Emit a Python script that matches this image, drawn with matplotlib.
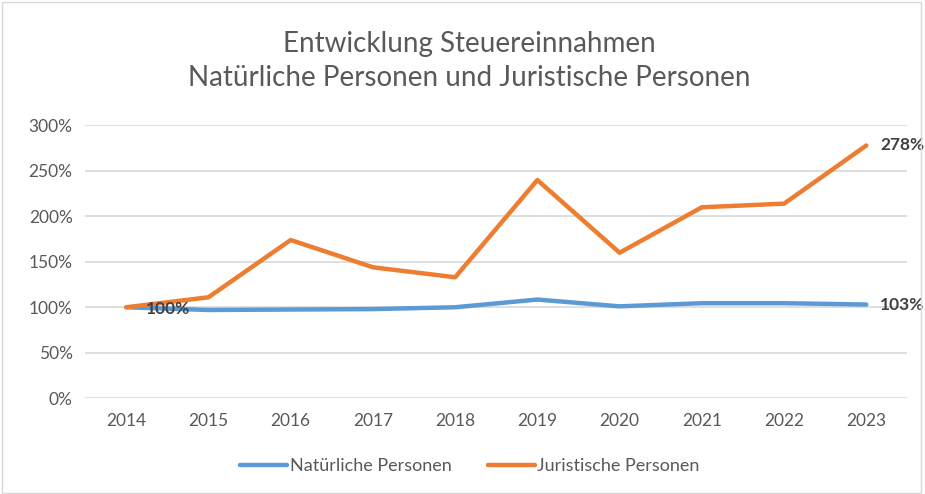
import matplotlib.pyplot as plt
from matplotlib.patches import Rectangle

years = ['2014', '2015', '2016', '2017', '2018', '2019', '2020', '2021', '2022', '2023']
natuerliche = [100, 97, 97.5, 98, 100, 108.5, 101, 104.5, 104.5, 103]
juristische = [100, 111, 174, 144, 133, 240, 160, 210, 214, 278]
yticks = [0, 50, 100, 150, 200, 250, 300]

blue = '#5B9BD5'
orange = '#ED7D31'
grey_txt = '#595959'

plt.rcParams['font.family'] = ['Lato', 'DejaVu Sans']

fig = plt.figure(figsize=(9.25, 4.94), dpi=100, facecolor='white')
ax = fig.add_axes([0.092, 0.194, 0.889, 0.552])

x = list(range(len(years)))
ax.plot(x, natuerliche, color=blue, lw=3.2, solid_capstyle='round',
        solid_joinstyle='round', label='Natürliche Personen', zorder=3)
ax.plot(x, juristische, color=orange, lw=3.2, solid_capstyle='round',
        solid_joinstyle='round', label='Juristische Personen', zorder=3)

ax.set_xlim(-0.5, len(years) - 0.5)
ax.set_ylim(0, 300)
ax.set_xticks(x)
ax.set_xticklabels(years)
ax.set_yticks(yticks)
ax.set_yticklabels([f'{v}%' for v in yticks])
ax.tick_params(axis='both', length=0, labelsize=12.5, colors=grey_txt)
ax.tick_params(axis='x', pad=11)
ax.tick_params(axis='y', pad=9)
ax.grid(axis='y', color='#D9D9D9', lw=1.2, zorder=0)
for s in ax.spines.values():
    s.set_visible(False)

# data labels
lbl = dict(fontsize=12.5, fontweight='bold', color='#404040', va='center', ha='left')
ax.annotate(f'{natuerliche[0]:.0f}%', (0, natuerliche[0]), xytext=(14, -1),
            textcoords='offset points', zorder=4, **lbl)
ax.annotate(f'{juristische[-1]:.0f}%', (x[-1], juristische[-1]), xytext=(10, 0),
            textcoords='offset points', annotation_clip=False, **lbl)
ax.annotate(f'{natuerliche[-1]:.0f}%', (x[-1], natuerliche[-1]), xytext=(10, 0),
            textcoords='offset points', annotation_clip=False, **lbl)

fig.text(0.507, 0.91, 'Entwicklung Steuereinnahmen', ha='center', va='center',
         fontsize=20, color=grey_txt)
fig.text(0.507, 0.842, 'Natürliche Personen und Juristische Personen', ha='center',
         va='center', fontsize=20, color=grey_txt)

leg = fig.legend(loc='center', bbox_to_anchor=(0.508, 0.057), ncol=2, frameon=False,
                 fontsize=13, handlelength=2.6, handletextpad=0.15, columnspacing=2.0)
for t in leg.get_texts():
    t.set_color(grey_txt)

fig.patches.append(Rectangle((0.002, 0.002), 0.994, 0.994, transform=fig.transFigure,
                             fill=False, ec='#D9D9D9', lw=1))

fig.savefig('out.png', dpi=100)
